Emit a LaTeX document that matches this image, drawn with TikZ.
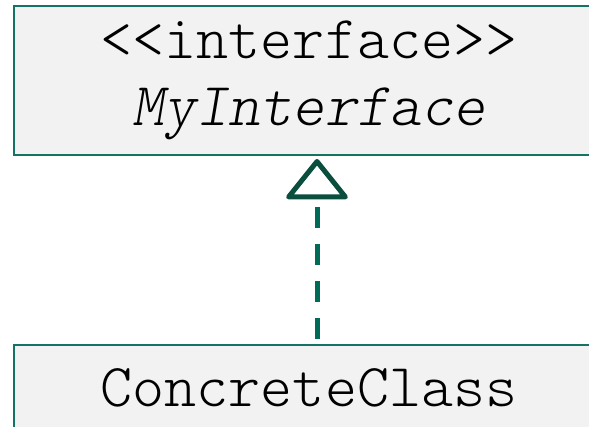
\documentclass[tikz,border=0pt]{standalone}
\usepackage{fontspec}
\setmonofont{lmmonolt10-regular.otf}[ItalicFont=lmmonolt10-oblique.otf]
\usetikzlibrary{arrows.meta}
\definecolor{umlline}{RGB}{20,115,98}
\definecolor{umlfill}{RGB}{242,242,242}
\definecolor{umltip}{RGB}{10,78,62}
\definecolor{umldash}{RGB}{0,108,88}
\tikzset{>=latex}
\tikzset{umlbox/.style={draw=umlline, fill=umlfill, line width=2pt, align=center,
  font=\ttfamily\fontsize{61}{67}\selectfont, inner sep=0pt}}
\tikzset{realize/.style={draw=umldash, line width=5pt,
  dash pattern=on 21pt off 16pt, dash phase=32pt,
  -{Triangle[open, length=42pt, width=66pt, line width=5pt, color=umltip, fill=white, round]}}}

\begin{document}
\begin{tikzpicture}[x=1pt, y=1pt]
          \useasboundingbox (0,0) rectangle (589,426);
          \clip (0,0) rectangle (589,426);
          \node[umlbox, anchor=north west, minimum width=590pt, minimum height=149pt] (iface) at (13,421)
            {<<interface>>\\ \textit{MyInterface}};
          \node[umlbox, anchor=north west, minimum width=590pt, minimum height=86pt] (impl) at (13,82)
            {ConcreteClass};
          \coordinate (mid) at (317,0);

          \draw[realize, shorten >=3pt] (impl.north -| mid) -- (iface.south -| mid);
        \end{tikzpicture}
\end{document}
